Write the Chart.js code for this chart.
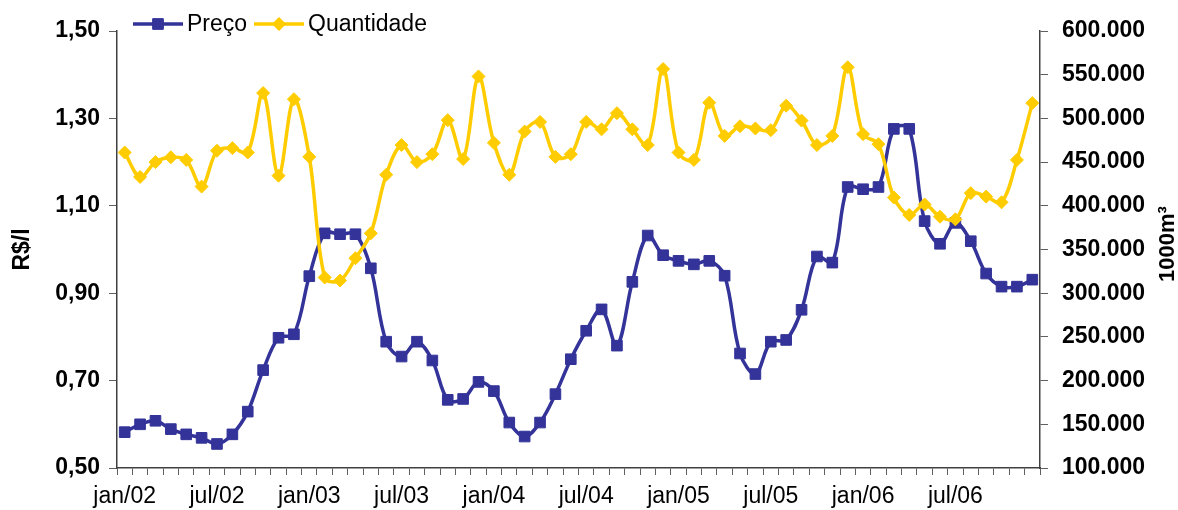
<!DOCTYPE html>
<html>
<head>
<meta charset="utf-8">
<script src="https://cdn.jsdelivr.net/npm/chart.js@4/dist/chart.umd.min.js"></script>
<style>
  html, body { margin: 0; padding: 0; background: #fff; }
  #wrap { width: 1178px; height: 510px; }
</style>
</head>
<body>
<div id="wrap"><canvas id="precoChart" width="1178" height="510"></canvas></div>
<script>
// months jan/02 .. dez/06
const monthNames = ['jan', 'fev', 'mar', 'abr', 'mai', 'jun', 'jul', 'ago', 'set', 'out', 'nov', 'dez'];
const years = ['02', '03', '04', '05', '06'];
const categories = [];
years.forEach((y) => monthNames.forEach((m) => categories.push(m + '/' + y)));

// R$/l
const preco = [
  0.582, 0.600, 0.608, 0.589, 0.577, 0.569, 0.555, 0.577, 0.629, 0.724, 0.798, 0.806,
  0.939, 1.037, 1.035, 1.035, 0.957, 0.789, 0.755, 0.789, 0.746, 0.656, 0.658, 0.697,
  0.676, 0.604, 0.572, 0.604, 0.669, 0.749, 0.814, 0.863, 0.780, 0.926, 1.032, 0.987,
  0.974, 0.966, 0.974, 0.940, 0.762, 0.715, 0.789, 0.793, 0.862, 0.984, 0.970, 1.143,
  1.138, 1.143, 1.276, 1.276, 1.065, 1.013, 1.061, 1.019, 0.945, 0.915, 0.915, 0.931
];

// 1000 m3
const quantidade = [
  461000, 433000, 450000, 455500, 452500, 422000, 463000, 466000, 461000, 529000, 434500, 522000,
  456000, 318000, 314500, 340000, 368500, 435500, 469500, 450000, 459000, 498000, 453500, 548000,
  472000, 435500, 485000, 496000, 456000, 459000, 496000, 487500, 506000, 487500, 469500, 556500,
  461000, 452500, 518000, 480000, 491000, 488500, 486500, 514500, 497500, 469500, 480000, 558500,
  482000, 470500, 409500, 389500, 401500, 387500, 384500, 414500, 410500, 404000, 452500, 517500
];

const leftTicks = { min: 0.5, max: 1.5, step: 0.2 };
const rightTicks = { min: 100000, max: 600000, step: 50000 };

const BLUE = '#333399';
const YELLOW = '#FFCC00';
const FONT = "'Liberation Sans', Arial, sans-serif";

const fmtComma = (v) => v.toFixed(2).replace('.', ',');
const fmtThousands = (v) => String(Math.round(v)).replace(/\B(?=(\d{3})+(?!\d))/g, '.');

// legend + right axis title drawn by hand (Excel style)
const excelDecor = {
  id: 'excelDecor',
  afterDraw(chart) {
    const ctx = chart.ctx;
    const items = [
      { label: 'Preço', color: BLUE, style: 'rect', r: 7.5, x: 133 },
      { label: 'Quantidade', color: YELLOW, style: 'rectRot', r: 6.5, x: 254 },
    ];
    const y = 24;
    ctx.save();
    ctx.font = '23px ' + FONT;
    ctx.textBaseline = 'middle';
    items.forEach((it) => {
      ctx.strokeStyle = it.color;
      ctx.lineWidth = 3.5;
      ctx.beginPath();
      ctx.moveTo(it.x, y);
      ctx.lineTo(it.x + 50, y);
      ctx.stroke();
      ctx.fillStyle = it.color;
      ctx.lineWidth = 1;
      Chart.helpers.drawPoint(ctx, { pointStyle: it.style, radius: it.r, borderWidth: 1 }, it.x + 25, y);
      ctx.fill();
      ctx.fillStyle = '#000';
      ctx.fillText(it.label, it.x + 54, y + 1);
    });

    // right axis title, rotated like the left one
    ctx.translate(1168, 244);
    ctx.rotate(-Math.PI / 2);
    ctx.font = 'bold 22px ' + FONT;
    ctx.textAlign = 'center';
    ctx.textBaseline = 'middle';
    ctx.fillStyle = '#000';
    ctx.fillText('1000m³', 0, 0);
    ctx.restore();
  }
};

new Chart(document.getElementById('precoChart'), {
  type: 'line',
  data: {
    labels: categories,
    datasets: [
      {
        label: 'Preço',
        data: preco,
        yAxisID: 'y',
        borderColor: BLUE,
        backgroundColor: BLUE,
        borderWidth: 3.5,
        pointStyle: 'rect',
        pointRadius: 7.5,
        pointBorderWidth: 1,
        pointBorderColor: BLUE,
        pointBackgroundColor: BLUE,
        tension: 0.35,
        order: 1,
      },
      {
        label: 'Quantidade',
        data: quantidade,
        yAxisID: 'y2',
        borderColor: YELLOW,
        backgroundColor: YELLOW,
        borderWidth: 3.5,
        pointStyle: 'rectRot',
        pointRadius: 6.5,
        pointBorderWidth: 1,
        pointBorderColor: YELLOW,
        pointBackgroundColor: YELLOW,
        tension: 0.35,
        order: 0,
      },
    ],
  },
  options: {
    responsive: false,
    animation: false,
    layout: { padding: { top: 31, left: 0, right: 0, bottom: 0 } },
    plugins: {
      legend: { display: false },
      tooltip: { enabled: false },
    },
    scales: {
      x: {
        type: 'category',
        offset: true,
        border: { display: true, color: '#404040', width: 1.5 },
        grid: { display: true, offset: true, drawOnChartArea: false, drawTicks: true, tickLength: 7, color: '#606060' },
        ticks: {
          autoSkip: false,
          maxRotation: 0,
          padding: 8,
          color: '#000',
          font: { family: FONT, size: 23 },
          callback: function (value, index) {
            return index % 6 === 0 ? categories[index] : '';
          },
        },
        afterFit: (scale) => { scale.height = 42; },
      },
      y: {
        position: 'left',
        min: leftTicks.min,
        max: leftTicks.max,
        border: { display: true, color: '#404040', width: 1.5 },
        grid: { display: true, drawOnChartArea: false, tickLength: 8, color: '#606060' },
        ticks: {
          stepSize: leftTicks.step,
          padding: 9,
          color: '#000',
          font: { family: FONT, size: 23, weight: 'bold' },
          callback: (v) => fmtComma(v),
        },
        title: {
          display: true,
          text: 'R$/l',
          color: '#000',
          font: { family: FONT, size: 23, weight: 'bold' },
          padding: { top: 9, bottom: 0 },
        },
        afterFit: (scale) => { scale.width = 117; },
      },
      y2: {
        position: 'right',
        min: rightTicks.min,
        max: rightTicks.max,
        border: { display: true, color: '#404040', width: 1.5 },
        grid: { display: true, drawOnChartArea: false, tickLength: 8, color: '#606060' },
        ticks: {
          stepSize: rightTicks.step,
          padding: 14,
          color: '#000',
          font: { family: FONT, size: 23, weight: 'bold' },
          callback: (v) => fmtThousands(v),
        },
        afterFit: (scale) => { scale.width = 138; },
      },
    },
  },
  plugins: [excelDecor],
});
</script>
</body>
</html>
